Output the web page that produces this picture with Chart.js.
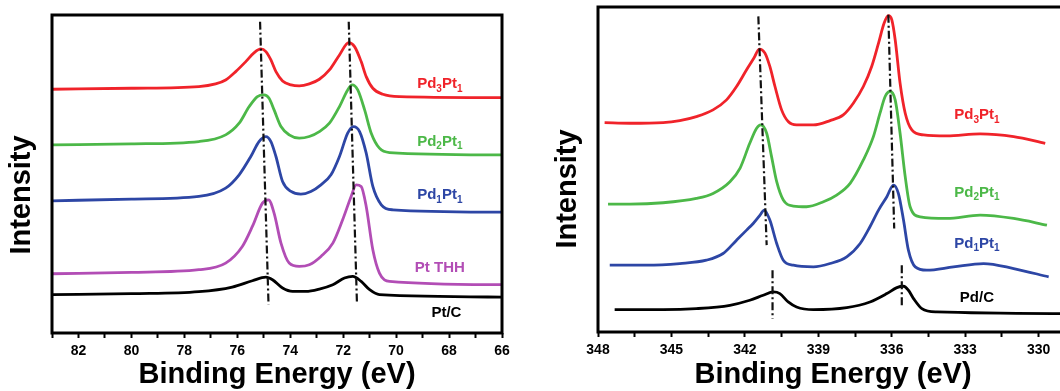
<!DOCTYPE html>
<html>
<head>
<meta charset="utf-8">
<title>XPS Pt 4f / Pd 3d</title>
<script src="https://cdn.jsdelivr.net/npm/chart.js@4.4.1/dist/chart.umd.min.js"></script>
<style>
  html, body { margin: 0; padding: 0; background: #fff; overflow: hidden; width: 1060px; height: 391px; }
  #ptBox { position: absolute; left: 0; top: 0; width: 530px; height: 391px; }
  #pdBox { position: absolute; left: 530px; top: 0; width: 560px; height: 391px; }
  canvas { display: block; }
</style>
</head>
<body>
<div id="ptBox"><canvas id="ptChart" width="530" height="391"></canvas></div>
<div id="pdBox"><canvas id="pdChart" width="560" height="391"></canvas></div>
<script>
// ---------- Pt 4f region: [binding energy (eV), intensity (a.u., offset)] ----------
const pt4f_Pd3Pt1 = [[83,73.2],[80,73.5],[77.45,74.0],[76.82,74.8],[76.44,76.0],[76.06,78.5],[75.68,81.5],[75.36,84.2],[75.11,85.3],[74.92,84.5],[74.73,82.0],[74.54,78.5],[74.29,75.7],[73.97,74.5],[73.66,74.2],[73.28,74.8],[72.90,76.2],[72.52,79.0],[72.14,83.5],[71.79,87.2],[71.57,86.0],[71.32,81.5],[71.13,77.0],[70.88,73.5],[70.50,71.7],[69.87,71.0],[66,70.7]];
const pt4f_Pd2Pt1 = [[83,56.5],[80,56.8],[77.45,57.5],[76.44,59.5],[75.93,63.0],[75.55,68.0],[75.24,71.0],[74.99,71.5],[74.80,70.5],[74.61,67.0],[74.35,62.0],[74.04,59.5],[73.66,58.5],[73.28,59.0],[72.90,60.5],[72.52,63.0],[72.14,68.0],[71.83,73.0],[71.66,74.5],[71.45,73.0],[71.19,67.0],[70.94,60.0],[70.63,55.5],[70.25,54.2],[66,53.5]];
const pt4f_Pd1Pt1 = [[83,39.7],[80,40.2],[77.45,41.0],[76.44,43.5],[75.93,47.5],[75.49,53.0],[75.18,57.5],[74.92,59.0],[74.73,57.5],[74.54,53.0],[74.29,45.5],[73.97,42.5],[73.60,41.7],[73.22,42.5],[72.84,44.5],[72.46,47.5],[72.14,53.0],[71.83,60.0],[71.61,62.0],[71.38,60.5],[71.13,54.0],[70.88,44.0],[70.56,38.5],[70.12,37.0],[66,36.3]];
const pt4f_PtTHH = [[83,17.8],[80,18.2],[77.45,19.0],[76.44,21.0],[75.81,26.0],[75.43,32.0],[75.05,39.0],[74.82,40.0],[74.61,36.0],[74.35,27.0],[74.04,21.0],[73.66,20.0],[73.28,20.5],[72.84,23.0],[72.39,27.0],[72.02,34.0],[71.70,41.0],[71.51,44.5],[71.32,44.0],[71.13,38.0],[70.88,25.0],[70.63,18.0],[70.25,15.5],[66,14.5]];
const pt4f_PtC = [[83,11.5],[80,11.8],[77.45,12.4],[76.19,13.8],[75.43,15.7],[74.92,16.8],[74.67,16.0],[74.29,13.5],[73.91,12.5],[73.41,12.5],[72.90,13.2],[72.39,14.5],[71.95,16.5],[71.64,17.0],[71.32,15.5],[71.00,13.0],[70.63,11.5],[66,10.8]];
// peak-position guides (4f7/2 and 4f5/2)
const pt4f_guides = [[[75.14,93.5],[74.82,8.5]], [[71.79,93.5],[71.48,9.0]]];

// ---------- Pd 3d region ----------
const pd3d_Pd3Pt1 = [[347.73,62.7],[346.70,62.5],[345.34,62.7],[344.66,63.3],[343.98,64.5],[343.30,66.5],[342.75,69.5],[342.34,73.5],[341.93,78.5],[341.63,82.0],[341.41,84.7],[341.18,83.5],[340.98,79.5],[340.77,73.5],[340.50,66.5],[340.23,63.0],[339.89,62.0],[339.20,62.0],[338.52,63.3],[337.98,65.0],[337.57,68.5],[337.16,73.5],[336.82,79.5],[336.54,86.5],[336.31,92.5],[336.14,94.7],[336.00,93.5],[335.86,87.5],[335.66,74.5],[335.45,65.5],[335.18,60.5],[334.70,59.0],[333.75,58.7],[332.39,59.3],[331.02,58.5],[329.73,56.5]];
const pd3d_Pd2Pt1 = [[347.59,38.3],[346.70,38.3],[345.34,38.7],[343.98,40.0],[343.30,41.5],[342.61,45.0],[342.20,49.0],[341.80,56.5],[341.52,61.0],[341.35,62.0],[341.11,59.5],[340.91,52.5],[340.70,45.0],[340.43,39.5],[340.02,37.7],[339.48,37.5],[338.79,39.0],[338.25,41.0],[337.70,44.5],[337.16,51.5],[336.75,58.5],[336.48,65.5],[336.27,70.5],[336.07,72.0],[335.86,69.5],[335.66,59.5],[335.45,46.5],[335.25,37.5],[334.84,34.5],[333.75,34.0],[332.39,35.0],[331.02,34.0],[329.66,32.0]];
const pd3d_Pd1Pt1 = [[347.52,20.0],[346.02,20.0],[344.66,20.5],[343.57,21.5],[342.89,23.5],[342.34,27.5],[341.93,30.5],[341.66,32.5],[341.38,35.0],[341.21,36.5],[340.98,33.5],[340.70,26.5],[340.43,21.5],[340.02,20.0],[339.20,19.5],[338.52,20.5],[337.84,22.5],[337.29,26.5],[336.89,31.5],[336.54,36.5],[336.20,40.5],[335.93,44.0],[335.73,41.5],[335.52,33.5],[335.32,24.5],[335.04,19.5],[334.57,18.5],[333.48,19.5],[332.25,20.5],[331.02,19.0],[329.59,16.5]];
const pd3d_PdC = [[347.32,6.7],[345.34,6.7],[343.98,7.0],[342.61,8.0],[341.80,9.5],[341.25,11.0],[340.84,12.0],[340.57,11.5],[340.23,9.0],[339.89,7.5],[339.20,6.7],[337.84,7.3],[336.89,9.0],[336.20,11.5],[335.79,13.3],[335.52,13.7],[335.32,12.5],[335.11,10.0],[334.77,7.0],[334.16,6.0],[328.5,5.5]];
const pd3d_guides = [[[341.45,94.5],[341.11,26.0]], [[336.14,95.0],[335.90,31.0]], [[340.87,18.5],[340.87,4.0]], [[335.59,20.0],[335.59,7.5]]];

// ---------- axis ticks ----------
const ptTickLabels = [82, 80, 78, 76, 74, 72, 70, 68, 66];
const ptMinorTicks = [83, 81, 79, 77, 75, 73, 71, 69, 67];
const pdTickLabels = [348, 345, 342, 339, 336, 333, 330];
const pdMinorTicks = [346.5, 343.5, 340.5, 337.5, 334.5, 331.5];

// ---------- series names ----------
const ptSeriesNames = ['Pd3Pt1', 'Pd2Pt1', 'Pd1Pt1', 'Pt THH', 'Pt/C'];
const pdSeriesNames = ['Pd3Pt1', 'Pd2Pt1', 'Pd1Pt1', 'Pd/C'];

const COLORS = { red: '#f0232a', green: '#4cb848', blue: '#2d46a5', purple: '#b24db5', black: '#000000' };
const FONT = '"Liberation Sans", Arial, Helvetica, sans-serif';

const toXY = arr => arr.map(([e, i]) => ({ x: e, y: i }));

function spectrum(points, color) {
  return {
    data: toXY(points), borderColor: color, borderWidth: 2.8, pointRadius: 0,
    cubicInterpolationMode: 'monotone', fill: false, order: 2
  };
}
function guide(points) {
  return {
    data: toXY(points), borderColor: '#111', borderWidth: 2.2, pointRadius: 0,
    borderDash: [8, 3, 2, 3], tension: 0, fill: false, order: 1
  };
}

// Text with numeric subscripts, centred on (cx, cy)
function drawSubText(ctx, text, cx, cy, color) {
  const parts = text.split(/(\d+)/).filter(s => s.length);
  const mainFont = `bold 15px ${FONT}`;
  const subFont = `bold 10px ${FONT}`;
  let total = 0;
  const widths = parts.map(p => {
    ctx.font = /^\d+$/.test(p) ? subFont : mainFont;
    const w = ctx.measureText(p).width;
    total += w;
    return w;
  });
  let x = cx - total / 2;
  ctx.fillStyle = color;
  ctx.textAlign = 'left';
  ctx.textBaseline = 'middle';
  parts.forEach((p, k) => {
    const sub = /^\d+$/.test(p);
    ctx.font = sub ? subFont : mainFont;
    ctx.fillText(p, x, sub ? cy + 5 : cy);
    x += widths[k];
  });
}

const panelDecor = {
  id: 'panelDecor',
  afterDatasetsDraw(chart, args, opts) {
    const { ctx, chartArea: a, scales: { x, y } } = chart;
    ctx.save();
    ctx.strokeStyle = '#000';
    ctx.lineWidth = 3;
    ctx.strokeRect(a.left, a.top, a.right - a.left, a.bottom - a.top);
    opts.labels.forEach(l => drawSubText(ctx, l.text, x.getPixelForValue(l.x), y.getPixelForValue(l.y), l.color));
    ctx.translate(opts.yTitle.x, opts.yTitle.y);
    ctx.rotate(-Math.PI / 2);
    ctx.font = `bold 29px ${FONT}`;
    ctx.fillStyle = '#000';
    ctx.textAlign = 'center';
    ctx.textBaseline = 'middle';
    ctx.fillText('Intensity', 0, 0);
    ctx.restore();
  }
};

function xScale(min, max, labels, minor, axisHeight) {
  const all = labels.concat(minor).sort((p, q) => p - q);
  return {
    type: 'linear', min, max, reverse: true,
    afterBuildTicks: s => { s.ticks = all.map(v => ({ value: v })); },
    afterFit: s => { s.height = axisHeight; },
    ticks: {
      autoSkip: false, maxRotation: 0, minRotation: 0, padding: 5, color: '#000',
      font: { family: FONT, size: 14, weight: 'bold' },
      callback: v => labels.some(t => Math.abs(t - v) < 1e-6) ? String(v) : ''
    },
    grid: { drawOnChartArea: false, drawTicks: true, tickLength: 5, tickWidth: 2, tickColor: '#000' },
    border: { display: false },
    title: {
      display: true, text: 'Binding Energy (eV)', color: '#000', padding: 0,
      font: { family: FONT, size: 29, weight: 'bold', lineHeight: 1.1 }
    }
  };
}

function baseOptions(xs, yMax, padding, decor) {
  return {
    responsive: false, animation: false, devicePixelRatio: 1,
    layout: { padding },
    scales: { x: xs, y: { type: 'linear', display: false, min: 0, max: yMax } },
    plugins: { legend: { display: false }, tooltip: { enabled: false }, panelDecor: decor }
  };
}

// Pt 4f panel
new Chart(document.getElementById('ptChart'), {
  type: 'line',
  data: {
    datasets: [
      spectrum(pt4f_Pd3Pt1, COLORS.red),
      spectrum(pt4f_Pd2Pt1, COLORS.green),
      spectrum(pt4f_Pd1Pt1, COLORS.blue),
      spectrum(pt4f_PtTHH, COLORS.purple),
      spectrum(pt4f_PtC, COLORS.black),
      ...pt4f_guides.map(guide)
    ]
  },
  options: baseOptions(
    xScale(66, 83, ptTickLabels, ptMinorTicks, 58), 95.5,
    { left: 52, right: 28, top: 15, bottom: 0 },
    {
      yTitle: { x: 22, y: 195 },
      labels: [
        { text: ptSeriesNames[0], x: 68.35, y: 74.8, color: COLORS.red },
        { text: ptSeriesNames[1], x: 68.35, y: 57.5, color: COLORS.green },
        { text: ptSeriesNames[2], x: 68.35, y: 41.5, color: COLORS.blue },
        { text: ptSeriesNames[3], x: 68.35, y: 19.5, color: COLORS.purple },
        { text: ptSeriesNames[4], x: 68.10, y: 6.0, color: COLORS.black }
      ]
    }
  ),
  plugins: [panelDecor]
});

// Pd 3d panel
new Chart(document.getElementById('pdChart'), {
  type: 'line',
  data: {
    datasets: [
      spectrum(pd3d_Pd3Pt1, COLORS.red),
      spectrum(pd3d_Pd2Pt1, COLORS.green),
      spectrum(pd3d_Pd1Pt1, COLORS.blue),
      spectrum(pd3d_PdC, COLORS.black),
      ...pd3d_guides.map(guide)
    ]
  },
  options: baseOptions(
    xScale(328.8, 348, pdTickLabels, pdMinorTicks, 59), 97.3,
    { left: 68, right: 22, top: 7, bottom: 0 },
    {
      yTitle: { x: 38, y: 189 },
      labels: [
        { text: pdSeriesNames[0], x: 332.52, y: 65.0, color: COLORS.red },
        { text: pdSeriesNames[1], x: 332.52, y: 41.7, color: COLORS.green },
        { text: pdSeriesNames[2], x: 332.52, y: 26.5, color: COLORS.blue },
        { text: pdSeriesNames[3], x: 332.52, y: 10.2, color: COLORS.black }
      ]
    }
  ),
  plugins: [panelDecor]
});
</script>
</body>
</html>
